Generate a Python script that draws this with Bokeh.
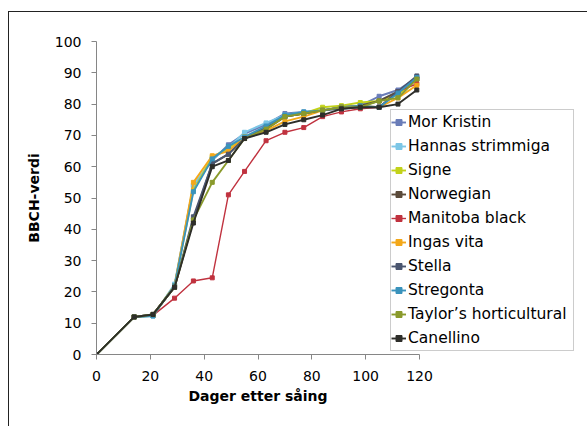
from bokeh.plotting import figure
from bokeh.models import Range1d, FixedTicker, Legend, LegendItem, Title
from bokeh.embed import file_html
from bokeh.resources import INLINE

days = [0, 14, 21, 29, 36, 43, 49, 55, 63, 70, 77, 84, 91, 98, 105, 112, 119]

mor_kristin = [0, 12, 12.5, 22, 54, 62, 67, 70.5, 73.5, 77, 77.5, 78, 79, 79.5, 82.5, 84.5, 88.5]
hannas_strimmiga = [0, 12, 12.3, 22.5, 54, 62.5, 66, 71, 74, 76.5, 77.5, 78, 79, 79.5, 81, 84, 88]
signe = [0, 12, 12.5, 22, 52.5, 63, 66, 69.5, 72.5, 76, 77, 79, 79.5, 80.5, 81, 83, 88]
norwegian = [0, 12, 12.8, 21.5, 43, 61, 64, 69, 72, 76, 77, 78, 79, 79.5, 81, 84, 88]
manitoba_black = [0, 12, 12.5, 18, 23.5, 24.5, 51, 58.5, 68.3, 71, 72.5, 76, 77.5, 78.5, 79, 84, 86.5]
ingas_vita = [0, 12, 12.5, 22, 55, 63.5, 65, 69.5, 71.5, 74.5, 76, 78, 79, 79.5, 79, 82, 86]
stella = [0, 12, 12.8, 21.5, 44, 61, 64, 69, 72.5, 76, 77, 78, 78.5, 79, 79, 84, 89]
stregonta = [0, 12, 12.3, 22, 52, 62.5, 66.5, 69.5, 73, 76.5, 77.5, 78, 79, 79.5, 79, 83.5, 88.5]
taylors_horticultural = [0, 12, 12.8, 21.5, 43, 55, 62, 69, 72, 76, 77, 78, 79, 79, 81, 82, 88]
canellino = [0, 12, 12.8, 21.5, 42, 60, 62, 69, 71, 73.5, 75, 76.5, 78.5, 79, 79, 80, 84.5]

series_names = ["Mor Kristin", "Hannas strimmiga", "Signe", "Norwegian", "Manitoba black",
                "Ingas vita", "Stella", "Stregonta", "Taylor\u2019s horticultural", "Canellino"]
series_values = [mor_kristin, hannas_strimmiga, signe, norwegian, manitoba_black,
                 ingas_vita, stella, stregonta, taylors_horticultural, canellino]
colors = ["#6A7DB8", "#7CC6E6", "#C2D21A", "#5B4B3B", "#C0323F",
          "#F3A81A", "#4B5670", "#3A93BC", "#8A9A2C", "#2E2E2A"]

x_ticks = [0, 20, 40, 60, 80, 100, 120]
y_ticks = [0, 10, 20, 30, 40, 50, 60, 70, 80, 90, 100]

FONT = "DejaVu Sans"

FRAME_W = 486
AXIS_W = 323  # pixels spanned by 0..120
x_end = 120 * FRAME_W / AXIS_W

p = figure(frame_width=FRAME_W, frame_height=313, output_backend="svg", toolbar_location=None,
           x_range=Range1d(0, x_end), y_range=Range1d(0, 100),
           min_border_left=87, min_border_right=5, min_border_top=29, min_border_bottom=72,
           styles={"margin-left": "8px", "margin-top": "11px",
                   "border-left": "1px solid #222", "border-top": "1px solid #222"})
p.outline_line_color = None
p.grid.visible = False

renderers = {}
for i in range(len(series_names)):
    lw = 1.4 if series_names[i] == "Manitoba black" else 1.9
    r = p.line(days, series_values[i], line_color=colors[i], line_width=lw)
    m = p.scatter(days, series_values[i], marker="square", size=4, color=colors[i])
    renderers[i] = [r, m]
items = [LegendItem(label=series_names[i], renderers=renderers[i]) for i in range(len(series_names))]

legend = Legend(items=items, location=(294, 3), orientation="vertical",
                border_line_color="#9a9a9a", border_line_width=1.5,
                background_fill_color="white", background_fill_alpha=1,
                label_text_font=FONT, label_text_font_size="15.5px", label_text_color="#000",
                glyph_width=15, glyph_height=24, label_height=24, label_width=165,
                label_standoff=2, padding=0, spacing=0, margin=0)
p.add_layout(legend, "center")

for ax in (p.xaxis[0], p.yaxis[0]):
    ax.axis_line_color = "#868686"
    ax.major_tick_line_color = "#868686"
    ax.minor_tick_line_color = None
    ax.major_tick_in = 0
    ax.major_tick_out = 5
    ax.major_label_text_font = FONT
    ax.major_label_text_font_size = "14px"
    ax.major_label_text_color = "#000"
    ax.axis_label_text_font = FONT
    ax.axis_label_text_font_size = "14px"
    ax.axis_label_text_font_style = "bold"
    ax.axis_label_text_color = "#000"

p.xaxis[0].ticker = FixedTicker(ticks=x_ticks)
p.yaxis[0].ticker = FixedTicker(ticks=y_ticks)
p.xaxis[0].bounds = (0, 120)
p.yaxis[0].axis_label = "BBCH-verdi"
p.xaxis[0].major_label_standoff = 11
p.yaxis[0].major_label_standoff = 10
p.yaxis[0].axis_label_standoff = 10

xtitle = Title(text="Dager etter s\u00e5ing", align="left", offset=92, standoff=5,
               text_font=FONT, text_font_size="14px", text_font_style="bold",
               text_color="#000")
p.add_layout(xtitle, "below")

open("out.html", "w").write(file_html(p, INLINE))
